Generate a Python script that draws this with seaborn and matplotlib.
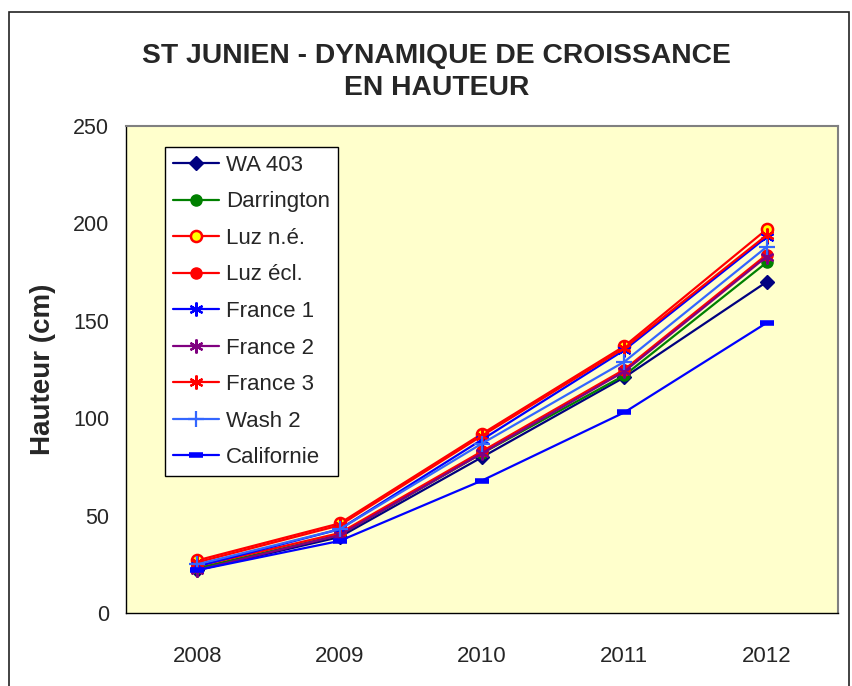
import matplotlib
matplotlib.use("Agg")
import matplotlib.pyplot as plt
import seaborn as sns
import pandas as pd
from matplotlib.patches import Rectangle

years = ["2008", "2009", "2010", "2011", "2012"]
wa403 = [22, 39, 80, 121, 170]
darrington = [23, 40, 82, 122, 180]
luz_ne = [27, 46, 92, 137, 197]
luz_ecl = [24, 41, 83, 125, 184]
france1 = [24, 43, 89, 135, 193]
france2 = [22, 40, 82, 124, 183]
france3 = [26, 45, 91, 136, 194]
wash2 = [25, 43, 87, 129, 188]
californie = [22, 37, 68, 103, 149]

series = [
    ("WA 403", wa403, dict(color="#000080", marker="D", markersize=7, mfc="#000080", mec="#000080")),
    ("Darrington", darrington, dict(color="#008000", marker="o", markersize=8, mfc="#008000", mec="#008000")),
    ("Luz n.é.", luz_ne, dict(color="#FF0000", marker="o", markersize=8, mfc="#FFFF00", mec="#FF0000", mew=1.8)),
    ("Luz écl.", luz_ecl, dict(color="#FF0000", marker="o", markersize=8, mfc="#FF0000", mec="#FF0000")),
    ("France 1", france1, dict(color="#0000FF", marker=(6, 2, 0), markersize=10, mec="#0000FF", mew=1.6)),
    ("France 2", france2, dict(color="#800080", marker=(6, 2, 0), markersize=10, mec="#800080", mew=1.6)),
    ("France 3", france3, dict(color="#FF0000", marker=(6, 2, 0), markersize=10, mec="#FF0000", mew=1.6)),
    ("Wash 2", wash2, dict(color="#3366FF", marker="+", markersize=11, mec="#3366FF", mew=1.6)),
    ("Californie", californie, dict(color="#0000FF", marker="_", markersize=10, mec="#0000FF", mew=4)),
]

sns.set_style("white")
plt.rcParams['font.family'] = ['Liberation Sans', 'DejaVu Sans']

fig = plt.figure(figsize=(8.52, 6.86), dpi=100)
ax = fig.add_axes([126/852, 73/686, 712/852, 487/686])
ax.set_facecolor("#FFFFCC")

xpos = list(range(len(years)))
for name, vals, st in series:
    df = pd.DataFrame({"x": xpos, "y": vals})
    sns.lineplot(data=df, x="x", y="y", ax=ax, label=name, linewidth=1.6,
                 color=st["color"], marker=st["marker"], markersize=st["markersize"],
                 markerfacecolor=st.get("mfc", st["color"]),
                 markeredgecolor=st.get("mec", st["color"]),
                 markeredgewidth=st.get("mew", 1.0))

ax.set_xlim(-0.5, 4.5)
ax.set_ylim(0, 250)
ax.set_yticks([0, 50, 100, 150, 200, 250])
ax.set_xticks([i - 0.5 for i in range(6)])
ax.set_xticklabels([])
ax.set_xticks(xpos, minor=True)
ax.set_xticklabels(years, minor=True)
ax.tick_params(axis="x", which="major", direction="out", length=6, width=1, color="black")
ax.tick_params(axis="x", which="minor", length=0, pad=24, labelsize=16)
ax.tick_params(axis="y", direction="out", length=6, width=1, color="black", labelsize=15.5, pad=6)
ax.set_xlabel("")
ax.set_ylabel("Hauteur (cm)", fontsize=20, fontweight="bold", labelpad=12)

for s in ["left", "bottom"]:
    ax.spines[s].set_color("black")
    ax.spines[s].set_linewidth(1.0)
for s in ["top", "right"]:
    ax.spines[s].set_color("#808080")
    ax.spines[s].set_linewidth(1.5)

fig.text(0.512, 1 - 72/686, "ST JUNIEN - DYNAMIQUE DE CROISSANCE\nEN HAUTEUR",
         ha="center", va="center", fontsize=20.3, fontweight="bold", linespacing=1.33)

leg = ax.legend(loc="upper left", bbox_to_anchor=(39/712, 1 - 21/487), fontsize=16,
                frameon=True, fancybox=False, edgecolor="black", facecolor="white",
                borderpad=0.35, labelspacing=0.7, handlelength=2.1, handletextpad=0.3,
                borderaxespad=0)
leg.get_frame().set_linewidth(1.0)
leg.get_frame().set_alpha(1)

fig.patches.append(Rectangle((9/852, -0.01), 840/852, 1 - 12/686 + 0.01, transform=fig.transFigure,
                             fill=False, edgecolor="#222222", linewidth=1.2))

fig.savefig("out.png", dpi=100)
